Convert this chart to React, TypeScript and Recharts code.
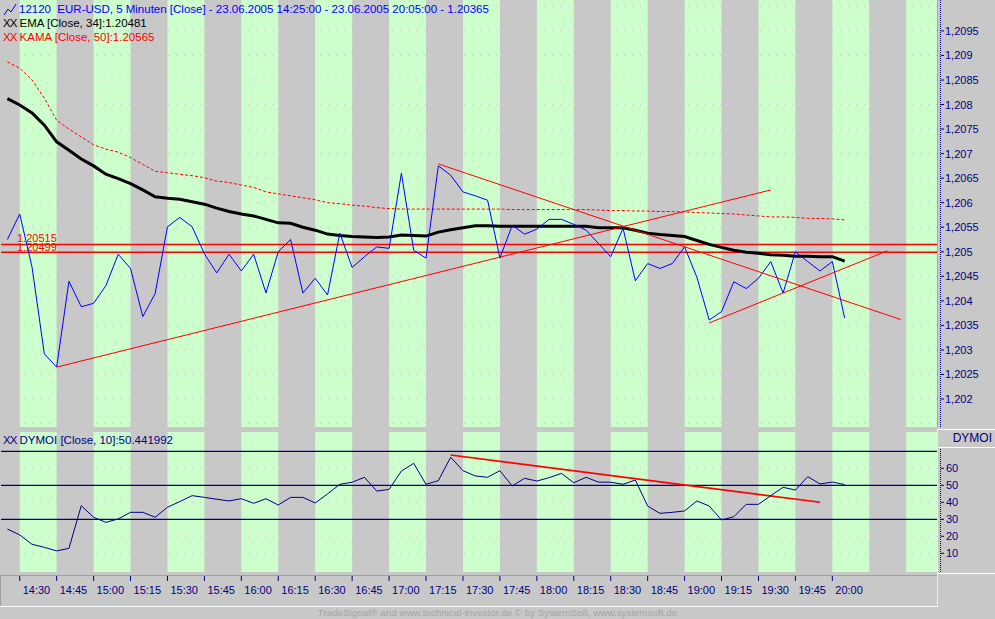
import React from "react";
import { ComposedChart, Line, XAxis, YAxis, ReferenceArea, ReferenceLine } from "recharts";

// 5-minute bars, 23.06.2005 14:25 - 20:05
const closeValues = [
  1.20525, 1.20577, 1.20469, 1.20292, 1.20265, 1.2044, 1.20388, 1.20395, 1.20431, 1.20495,
  1.20466, 1.20368, 1.20415, 1.20551, 1.2057, 1.20551, 1.20496, 1.20457, 1.20495, 1.20461,
  1.20495, 1.20416, 1.205, 1.20525, 1.20416, 1.20446, 1.20412, 1.20538, 1.20468, 1.2049,
  1.2051, 1.20507, 1.2066, 1.20503, 1.20487, 1.20675, 1.20656, 1.20622, 1.20614, 1.20605,
  1.20487, 1.20554, 1.20536, 1.20546, 1.20566, 1.20566, 1.20556, 1.20544, 1.20517, 1.2049,
  1.20548, 1.20441, 1.20476, 1.20466, 1.20476, 1.2051, 1.20448, 1.20361, 1.20378, 1.20439,
  1.20425, 1.20446, 1.2048, 1.20416, 1.205, 1.2048, 1.20461, 1.2048, 1.20365,
];
const emaValues = [
  1.20812, 1.20799, 1.20783, 1.20758, 1.20724, 1.20707, 1.20689, 1.20675, 1.20658, 1.20649,
  1.20639, 1.20626, 1.20612, 1.20609, 1.20607, 1.20602, 1.20597, 1.20589, 1.20582, 1.20577,
  1.20573, 1.20566, 1.20559, 1.20558, 1.2055, 1.20544, 1.20536, 1.20533, 1.20531, 1.2053,
  1.20529, 1.2053, 1.20534, 1.20533, 1.20532, 1.2054, 1.20545, 1.20549, 1.20553, 1.20553,
  1.20552, 1.20552, 1.20552, 1.20552, 1.20552, 1.20552, 1.20552, 1.20552, 1.20549, 1.20549,
  1.20549, 1.20544, 1.20538, 1.20535, 1.20533, 1.20531, 1.20523, 1.20515, 1.20509, 1.20503,
  1.20499, 1.20497, 1.20494, 1.20493, 1.20491, 1.20491, 1.2049, 1.2049, 1.20481,
];
const kamaValues = [
  1.20887, 1.20874, 1.2085, 1.20813, 1.20768, 1.2075, 1.20734, 1.20718, 1.20709, 1.20703,
  1.20692, 1.20678, 1.20664, 1.20661, 1.20658, 1.20655, 1.20651, 1.20644, 1.20641, 1.20636,
  1.20631, 1.20622, 1.20618, 1.20614, 1.2061, 1.20606, 1.206, 1.20598, 1.20595, 1.20593,
  1.2059, 1.20588, 1.20587, 1.20587, 1.20587, 1.20587, 1.20587, 1.20587, 1.20587, 1.20587,
  1.20587, 1.20586, 1.20586, 1.20586, 1.20586, 1.20586, 1.20586, 1.20586, 1.20585, 1.20584,
  1.20584, 1.20583, 1.20583, 1.20582, 1.20582, 1.20581, 1.2058, 1.20579, 1.20578, 1.20577,
  1.20575, 1.20573, 1.20571, 1.20571, 1.2057, 1.20568, 1.20568, 1.20567, 1.20565,
];
const dymoiValues = [
  24.3, 20.8, 15.3, 13.5, 11.4, 12.9, 38, 31.2, 28.2, 30.2,
  34.1, 34.1, 31.2, 37.1, 40.4, 43.9, 42.9, 41.8, 40.8, 42.1,
  39.4, 42.1, 38.4, 42.9, 42.9, 39.6, 44.9, 50.6, 51.8, 54.7,
  46.6, 47.6, 58.4, 62.9, 50.6, 52.7, 66.5, 58.6, 55.5, 54.7,
  58.6, 49.6, 54.1, 52.5, 54.5, 57, 51.5, 54.7, 51.9, 51.8,
  50.6, 53.1, 37.8, 33.5, 34.1, 34.9, 40.8, 37.8, 29.6, 31.5,
  38.8, 38.8, 43.9, 48.8, 47.2, 55.1, 50.8, 51.9, 50.44,
];

const timeLabels = [
  "14:30", "14:45", "15:00", "15:15", "15:30", "15:45", "16:00", "16:15", "16:30", "16:45", "17:00", "17:15",
  "17:30", "17:45", "18:00", "18:15", "18:30", "18:45", "19:00", "19:15", "19:30", "19:45", "20:00",
];
const priceTicks = [
  1.202, 1.2025, 1.203, 1.2035, 1.204, 1.2045, 1.205, 1.2055, 1.206, 1.2065, 1.207, 1.2075, 1.208, 1.2085, 1.209, 1.2095,
];
const priceGrid = [1.2015, ...priceTicks, 1.21];
const dymoiTicks = [10, 20, 30, 40, 50, 60];
const dymoiLevels = [70, 50, 30];
const priceLevels = ["1.20515", "1.20499"];

// trend lines drawn on the chart: [bar index, value] pairs
const priceTrends = [
  [[4, 1.20265], [62, 1.20626]],
  [[35, 1.20679], [72.55, 1.20362]],
  [[57, 1.20355], [71.47, 1.20502]],
];
const dymoiTrend = [[36, 67.8], [66, 40]];

// quarter-hour slots shaded green (bar index from/to)
const greenSlots = [
  [1, 4], [7, 10], [13, 16], [19, 22], [25, 28], [31, 34], [37, 40],
  [43, 46], [49, 52], [55, 58], [61, 64], [67, 70], [73, 76],
];

const X_DOMAIN = [-0.52, 75.5];
const NAVY = "#000080";
const FONT = "'Liberation Sans', Arial, sans-serif";

const rows = closeValues.map((c, i) => ({
  i,
  close: c,
  ema: emaValues[i],
  kama: kamaValues[i],
  dymoi: dymoiValues[i],
}));

const fmtPrice = (v: number) => String(Number(v.toFixed(4))).replace(".", ",");

const PriceTick = (props: any) => {
  const { x, y, payload } = props;
  return (
    <g>
      <line x1={x + 4} x2={x + 7} y1={y} y2={y} stroke={NAVY} />
      <text x={x + 8} y={y + 4} fill={NAVY} fontSize={11} fontFamily={FONT}>
        {fmtPrice(payload.value)}
      </text>
    </g>
  );
};

const DymoiTick = (props: any) => {
  const { x, y, payload } = props;
  return (
    <g>
      <line x1={x + 4} x2={x + 7} y1={y} y2={y} stroke={NAVY} />
      <text x={x + 9} y={y + 4} fill={NAVY} fontSize={11} fontFamily={FONT}>
        {payload.value}
      </text>
    </g>
  );
};

const TimeTick = (props: any) => {
  const { x, y, payload } = props;
  const k = (payload.value - 1) / 3;
  return (
    <g>
      <line x1={x} x2={x} y1={y + 4} y2={y + 9} stroke={NAVY} />
      <text x={x + 3} y={y + 22} fill={NAVY} fontSize={11} fontFamily={FONT}>
        {timeLabels[k]}
      </text>
    </g>
  );
};

const LevelLabel = (props: any) => {
  const { viewBox, txt, dy } = props;
  return (
    <text x={viewBox.x + 16} y={viewBox.y + dy} fill="#ff0000" fontSize={11} fontFamily={FONT}>
      {txt}
    </text>
  );
};

const bands = () =>
  greenSlots.map(([a, b]) => (
    <ReferenceArea
      key={"g" + a}
      x1={a}
      x2={Math.min(b, X_DOMAIN[1])}
      fill="#ccffcc"
      fillOpacity={1}
      strokeWidth={0}
    />
  ));

const abs = (s: React.CSSProperties): React.CSSProperties => ({ position: "absolute", ...s });

const legendText = (top: number, color: string): React.CSSProperties =>
  abs({ left: 3, top, fontSize: 11.5, lineHeight: "13px", color, whiteSpace: "pre" });

const App = () => {
  const xTicks = timeLabels.map((_, k) => 1 + 3 * k);
  return (
    <div
      style={abs({
        left: 0,
        top: 0,
        width: 995,
        height: 619,
        background: "#c8c8c8",
        fontFamily: FONT,
        overflow: "hidden",
      })}
    >
      <div style={abs({ left: 0, top: 0 })}>
        <ComposedChart width={995} height={427} data={rows} margin={{ top: 0, right: 0, bottom: 0, left: 1 }}>
          <XAxis dataKey="i" type="number" domain={X_DOMAIN} allowDataOverflow hide />
          <YAxis
            orientation="right"
            width={58}
            domain={[1.20143, 1.21013]}
            allowDataOverflow
            ticks={priceTicks}
            interval={0}
            tickLine={false}
            axisLine={false}
            tickSize={0}
            tickMargin={0}
            tick={<PriceTick />}
          />
          {bands()}
          {priceGrid.map((v) => (
            <ReferenceLine key={"pg" + v} y={v} stroke="#d2b8d2" strokeDasharray="1 7" />
          ))}
          {priceLevels.map((v, k) => (
            <ReferenceLine
              key={"lv" + v}
              y={Number(v)}
              stroke="#ff0000"
              strokeWidth={1.5}
              label={<LevelLabel txt={v} dy={k === 0 ? -2 : -1} />}
            />
          ))}
          <Line dataKey="kama" stroke="#ff0000" strokeDasharray="3 2" strokeWidth={1} dot={false} isAnimationActive={false} />
          <Line dataKey="ema" stroke="#000000" strokeWidth={3} dot={false} isAnimationActive={false} />
          <Line dataKey="close" stroke="#0000ff" strokeWidth={1} dot={false} isAnimationActive={false} />
          {priceTrends.map((t, k) => (
            <ReferenceLine
              key={"pt" + k}
              segment={[{ x: t[0][0], y: t[0][1] }, { x: t[1][0], y: t[1][1] }]}
              stroke="#ff0000"
              strokeWidth={1}
            />
          ))}
        </ComposedChart>
      </div>

      <div style={abs({ left: 0, top: 432 })}>
        <ComposedChart width={995} height={175} data={rows} margin={{ top: 0, right: 0, bottom: 0, left: 1 }}>
          <XAxis
            dataKey="i"
            type="number"
            domain={X_DOMAIN}
            allowDataOverflow
            ticks={xTicks}
            interval={0}
            height={35}
            tickLine={false}
            axisLine={false}
            tickSize={0}
            tickMargin={0}
            tick={<TimeTick />}
          />
          <YAxis
            orientation="right"
            width={58}
            domain={[-1, 81.35]}
            allowDataOverflow
            ticks={dymoiTicks}
            interval={0}
            tickLine={false}
            axisLine={false}
            tickSize={0}
            tickMargin={0}
            tick={<DymoiTick />}
          />
          {bands()}
          {dymoiTicks.map((v) => (
            <ReferenceLine key={"dg" + v} y={v} stroke="#d2b8d2" strokeDasharray="1 7" />
          ))}
          {dymoiLevels.map((v) => (
            <ReferenceLine key={"dl" + v} y={v} stroke={NAVY} strokeWidth={1.2} />
          ))}
          <ReferenceLine
            segment={[{ x: dymoiTrend[0][0], y: dymoiTrend[0][1] }, { x: dymoiTrend[1][0], y: dymoiTrend[1][1] }]}
            stroke="#ff0000"
            strokeWidth={1.5}
          />
          <Line dataKey="dymoi" stroke={NAVY} strokeWidth={1} dot={false} isAnimationActive={false} />
        </ComposedChart>
      </div>

      {/* frame lines */}
      <div style={abs({ left: 937, top: 0, width: 1, height: 427, background: "#a8a8a8" })} />
      <div style={abs({ left: 940, top: 0, height: 427, borderLeft: "1px dotted " + NAVY })} />
      <div style={abs({ left: 940, top: 449, height: 123, borderLeft: "1px dotted " + NAVY })} />
      <div style={abs({ left: 938, top: 429, width: 57, height: 1, background: "#ffffff" })} />
      <div style={abs({ left: 938, top: 447, width: 57, height: 1, background: "#ffffff" })} />
      <div style={abs({ left: 938, top: 573, width: 57, height: 1, background: "#ffffff" })} />
      <div style={abs({ left: 937, top: 429, width: 1, height: 178, background: "#ececec" })} />
      <div style={abs({ left: 0, top: 575, width: 937, height: 1, background: "#a0a0a0" })} />
      <div style={abs({ left: 0, top: 575, width: 1, height: 31, background: "#a0a0a0" })} />
      <div style={abs({ left: 0, top: 606, width: 938, height: 1, background: "#ffffff" })} />
      <div
        style={abs({
          left: 938,
          top: 430,
          width: 54,
          height: 17,
          lineHeight: "17px",
          textAlign: "right",
          fontSize: 12,
          color: NAVY,
        })}
      >
        DYMOI
      </div>

      {/* legends */}
      <svg style={abs({ left: 3, top: 3 })} width={14} height={13}>
        <polyline points="1,12 5,6 8,9 13,1" fill="none" stroke="#0000ff" strokeWidth={1} />
      </svg>
      <div style={abs({ left: 19, top: 3, fontSize: 11.5, lineHeight: "13px", color: "#0000ff", whiteSpace: "pre" })}>
        {"12120  EUR-USD, 5 Minuten [Close] - 23.06.2005 14:25:00 - 23.06.2005 20:05:00 - 1.20365"}
      </div>
      <div style={legendText(17, "#000000")}>
        <span style={{ letterSpacing: -1 }}>XX</span> EMA [Close, 34]:1.20481
      </div>
      <div style={legendText(31, "#ff0000")}>
        <span style={{ letterSpacing: -1 }}>XX</span> KAMA [Close, 50]:1.20565
      </div>
      <div style={legendText(434, NAVY)}>
        <span style={{ letterSpacing: -1 }}>XX</span> DYMOI [Close, 10]:50.441992
      </div>

      <div
        style={abs({
          left: 0,
          top: 606,
          width: 995,
          height: 13,
          lineHeight: "13px",
          textAlign: "center",
          fontSize: 9.8,
          color: "#a4a4a4",
        })}
      >
        TradeSignal® and www.technical-investor.de © by SystemSoft, www.systemsoft.de
      </div>
    </div>
  );
};

export default App;
